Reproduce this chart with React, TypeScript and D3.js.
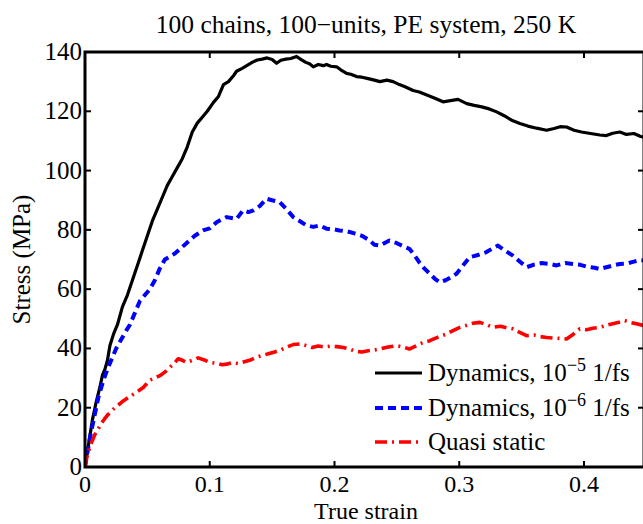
import React from "react";
import * as d3 from "d3";

const W = 643;
const H = 524;

const titleText = "100 chains, 100\u2212units, PE system, 250 K";
const xLabel = "True strain";
const yLabel = "Stress (MPa)";
const xTicks = [0, 0.1, 0.2, 0.3, 0.4];
const yTicks = [0, 20, 40, 60, 80, 100, 120, 140];

const blackStrain = [0,0.003,0.006,0.009,0.012,0.014,0.016,0.018,0.020,0.023,0.026,0.030,0.034,0.038,0.042,0.046,0.050,0.054,0.058,0.062,0.066,0.070,0.074,0.078,0.082,0.086,0.090,0.094,0.098,0.103,0.107,0.111,0.115,0.119,0.1215,0.126,0.130,0.134,0.138,0.142,0.146,0.150,0.1536,0.157,0.161,0.165,0.1696,0.173,0.177,0.180,0.183,0.187,0.191,0.1936,0.197,0.2017,0.205,0.2097,0.213,0.2177,0.222,0.227,0.232,0.2364,0.242,0.247,0.252,0.257,0.263,0.268,0.274,0.280,0.287,0.293,0.299,0.306,0.312,0.318,0.324,0.330,0.336,0.342,0.3486,0.355,0.362,0.370,0.376,0.381,0.386,0.392,0.398,0.404,0.4127,0.418,0.423,0.4287,0.434,0.440,0.445,0.448];
const blackStress = [0,8,16,22,27,31,33,36,41,45,48,54,58,63,68,73,78,83,87,91,95,98,101,104,108,113,116,118,120,123,125,129,130,132,133.5,134.5,135.5,136.5,137.3,137.6,138,137.5,136.2,137.2,137.6,137.8,138.5,137.5,136.5,136,135,135.8,135.4,135.8,135.2,135,134,132.8,132.5,131.7,131.5,131,130.5,130,130.5,130,129,128.2,127,126.5,125.5,124.5,123.2,123.6,124,122.6,122,121.5,120.8,119.8,118.5,117,115.9,115,114.3,113.6,114.2,114.8,114.7,113.6,113,112.6,112,111.8,112.6,113,112.2,112.5,111.6,111.2];

const blueStrain = [0,0.004,0.008,0.011,0.0146,0.018,0.021,0.025,0.029,0.033,0.036,0.040,0.044,0.048,0.052,0.056,0.060,0.064,0.068,0.072,0.076,0.080,0.084,0.088,0.0946,0.100,0.1055,0.1095,0.1135,0.1175,0.1215,0.1268,0.131,0.135,0.140,0.1455,0.150,0.156,0.161,0.167,0.172,0.1776,0.183,0.188,0.1936,0.199,0.204,0.210,0.216,0.222,0.228,0.232,0.2364,0.244,0.250,0.255,0.260,0.264,0.268,0.272,0.2764,0.2805,0.2845,0.289,0.2935,0.2978,0.303,0.3085,0.315,0.3218,0.327,0.331,0.335,0.339,0.343,0.348,0.354,0.360,0.366,0.3726,0.378,0.385,0.391,0.397,0.403,0.4085,0.4127,0.418,0.4235,0.4287,0.434,0.440,0.445,0.448];
const blueStress = [0,10,18,24,29,33,36,40,43,46,48,52,56,58,60,63,67,70,71,72,73.5,75,76.5,78,79.8,80.5,82.6,83.5,84.3,84,83.7,86.6,86,86.6,88,90.5,90,89.4,87.2,84.3,83,81.5,81,81.5,80.4,80.2,79.8,79.5,78.8,78,76.5,75,74.7,76.4,75.5,74.5,73.6,71.5,69,67,65.2,63.5,62.3,63,64,65.2,68,70.8,71.5,72.5,73.8,74.7,73.5,72.4,71.3,69.5,67.4,68.3,68.8,68.5,68,68.8,68.5,68.2,67.5,67.2,66.8,67.4,68,68.5,68.6,69.3,69.8,69.7];

const redStrain = [0,0.0013,0.004,0.008,0.0115,0.0146,0.018,0.0227,0.027,0.0307,0.035,0.039,0.043,0.0467,0.052,0.056,0.060,0.064,0.068,0.0715,0.0747,0.078,0.0815,0.086,0.0908,0.095,0.100,0.1055,0.110,0.1135,0.118,0.1226,0.127,0.132,0.137,0.142,0.147,0.152,0.157,0.162,0.167,0.172,0.177,0.182,0.187,0.192,0.197,0.202,0.207,0.212,0.217,0.222,0.227,0.232,0.2364,0.243,0.2497,0.255,0.260,0.265,0.270,0.2764,0.283,0.290,0.295,0.3005,0.306,0.311,0.3165,0.322,0.327,0.333,0.338,0.343,0.348,0.354,0.360,0.365,0.370,0.375,0.380,0.386,0.3915,0.3966,0.402,0.407,0.4127,0.418,0.423,0.428,0.4327,0.437,0.442,0.448];
const redStress = [0,3,7,11,13.5,15.6,17.5,19.5,21,22.3,23.5,24.6,25.7,26.8,29.3,30,30.8,32,33.6,35,36.5,36,35.3,36,36.8,36.2,35.3,35,34.5,34.7,35.2,34.9,35.4,36,37,37.6,38.2,38.8,39.5,40.5,41.3,41.5,41,40.3,40.8,40.5,40.8,40.6,40.3,39.8,39,38.8,39.2,39.5,39.8,40.5,40.9,40.5,39.8,40.8,41.8,42.6,43.8,44.9,46,47.1,47.8,48.5,48.8,48,47.1,47.5,47,46.6,45.5,44.3,44.5,44,43.7,43.5,43.4,43.2,44.8,46.6,46.3,46.8,47.1,47.8,48.3,48.8,49.4,48.8,48.3,47.7];

const seriesNames = ["Dynamics, 10", "Dynamics, 10", "Quasi static"];
const seriesExp = ["\u22125", "\u22126", ""];
const seriesUnit = [" 1/fs", " 1/fs", ""];

const FONT = "'Liberation Serif', 'Times New Roman', serif";

export default function App() {
  const left = 85, top = 52, right = 644, bottom = 467;
  const x = d3.scaleLinear().domain([0, 0.4481]).range([left, right]);
  const y = d3.scaleLinear().domain([0, 140]).range([bottom, top]);

  const mk = (xs: number[], ys: number[]) =>
    d3.line<number>().x((_, i) => x(xs[i])).y((_, i) => y(ys[i]))(xs) || "";

  const series = [
    { d: mk(blackStrain, blackStress), color: "#000000", width: 3.2, dash: undefined as string | undefined },
    { d: mk(blueStrain, blueStress), color: "#0000ff", width: 4, dash: "8 5" },
    { d: mk(redStrain, redStress), color: "#ff0000", width: 3.6, dash: "12 5 2 5" },
  ];

  const legendY = [373, 408, 442];
  const fs = 25;

  return (
    <svg width={W} height={H} style={{ position: "absolute", left: 0, top: 0, background: "#fff" }} fontFamily={FONT}>
      <rect x={0} y={0} width={W} height={H} fill="#fff" />
      <defs>
        <clipPath id="plotclip">
          <rect x={left} y={top} width={right - left} height={bottom - top} />
        </clipPath>
      </defs>
      <text x={366} y={33} fontSize={25.5} textAnchor="middle" fill="#000">{titleText}</text>

      <g clipPath="url(#plotclip)">
        {series.map((s, i) => (
          <path key={i} d={s.d} fill="none" stroke={s.color} strokeWidth={s.width}
            strokeDasharray={s.dash} strokeLinejoin="round" strokeLinecap="butt" />
        ))}
      </g>

      {xTicks.map((t) => (
        <g key={"xt" + t}>
          <line x1={x(t)} x2={x(t)} y1={bottom} y2={bottom - 6} stroke="#000" strokeWidth={2} />
          <line x1={x(t)} x2={x(t)} y1={top} y2={top + 6} stroke="#000" strokeWidth={2} />
          <text x={x(t)} y={491.5} fontSize={24} textAnchor="middle" fill="#000">{t === 0 ? "0" : String(t)}</text>
        </g>
      ))}
      {yTicks.map((t) => (
        <g key={"yt" + t}>
          <line x1={left} x2={left + 6} y1={y(t)} y2={y(t)} stroke="#000" strokeWidth={2} />
          <line x1={right} x2={right - 6} y1={y(t)} y2={y(t)} stroke="#000" strokeWidth={2} />
          <text x={82} y={y(t) + 8} fontSize={fs} textAnchor="end" fill="#000">{String(t)}</text>
        </g>
      ))}

      <rect x={left} y={top} width={right - left} height={bottom - top} fill="none" stroke="#000" strokeWidth={3} />

      <text x={366} y={518.5} fontSize={24} textAnchor="middle" fill="#000">{xLabel}</text>
      <text transform={`translate(30, ${(top + bottom) / 2}) rotate(-90)`} fontSize={fs} textAnchor="middle" fill="#000">{yLabel}</text>

      {series.map((s, i) => (
        <g key={"lg" + i}>
          <line x1={375} x2={422} y1={legendY[i]} y2={legendY[i]} stroke={s.color} strokeWidth={s.width}
            strokeDasharray={s.dash} />
          <text x={428} y={legendY[i] + 8} fontSize={fs} fill="#000">
            {seriesNames[i]}
            {seriesExp[i] && (
              <tspan fontSize={18} dy={-10}>{seriesExp[i]}</tspan>
            )}
            {seriesUnit[i] && (
              <tspan dy={10}>{seriesUnit[i]}</tspan>
            )}
          </text>
        </g>
      ))}
    </svg>
  );
}
